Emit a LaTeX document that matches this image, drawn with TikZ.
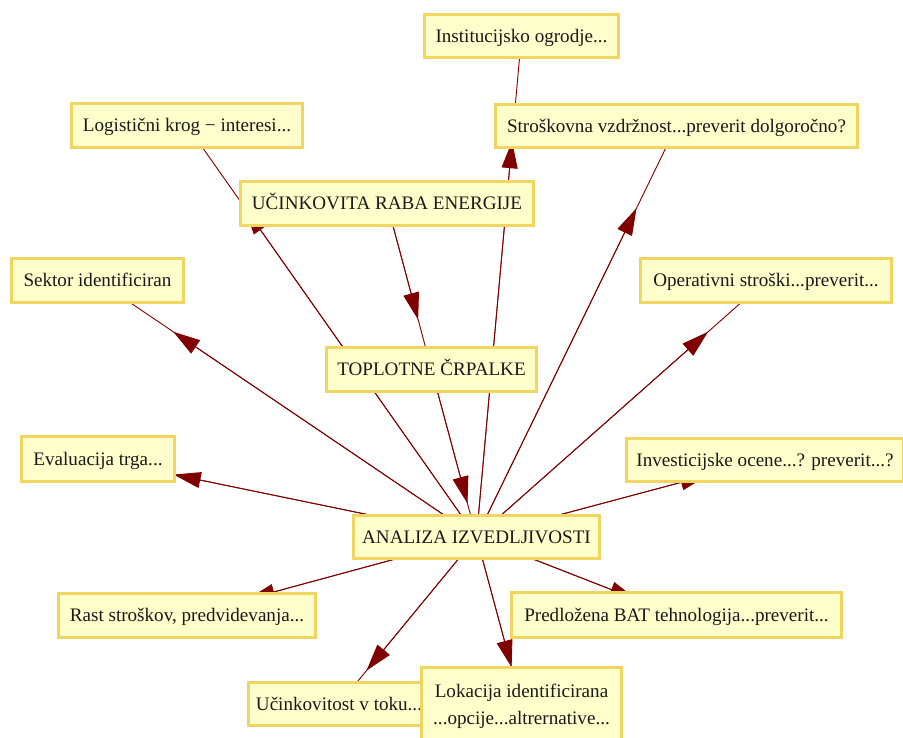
\documentclass[tikz,border=0pt]{standalone}
\usepackage{fontspec}
\setmainfont{Liberation Serif}
\usetikzlibrary{arrows.meta,calc}
\pgfdeclarelayer{edges}
\pgfsetlayers{edges,main}
\definecolor{boxfill}{RGB}{255,255,204}
\definecolor{boxline}{RGB}{240,214,96}
\definecolor{edgecol}{RGB}{128,0,0}
\tikzset{
  box/.style={draw=boxline, fill=boxfill, line width=3pt, inner sep=0pt,
    text=black!90, font=\fontsize{19.1}{22.9}\selectfont,
    text height=15.5pt, text depth=3pt},
  link/.style={draw=edgecol, line width=0.9pt},
  tipped/.style={link, -{Triangle[length=27pt,width=16pt]}}
}
\begin{document}
\begin{tikzpicture}[x=1pt,y=-1pt]
\useasboundingbox (0,0) rectangle (903,738);

% topic boxes
\node[box, minimum width=194pt, minimum height=43pt] (ins) at (521.5,36) {Institucijsko ogrodje...};
\node[box, minimum width=362pt, minimum height=43pt] (str) at (676.5,126) {Stroškovna vzdržnost...preverit dolgoročno?};
\node[box, minimum width=231pt, minimum height=44pt] (log) at (187,125.5) {Logistični krog − interesi...};
\node[box, minimum width=293pt, minimum height=44pt] (uc) at (387,203.5) {UČINKOVITA RABA ENERGIJE};
\node[box, minimum width=172pt, minimum height=44pt] (sek) at (97.5,280.5) {Sektor identificiran};
\node[box, minimum width=251pt, minimum height=44pt] (ope) at (766,280.5) {Operativni stroški...preverit...};
\node[box, minimum width=210pt, minimum height=44pt] (top) at (431.5,369.5) {TOPLOTNE ČRPALKE};
\node[box, minimum width=153pt, minimum height=45pt] (eva) at (98,459) {Evaluacija trga...};
\node[box, minimum width=277pt, minimum height=43pt] (inv) at (765,460) {Investicijske ocene...? preverit...?};
\node[box, minimum width=246pt, minimum height=43pt] (an) at (476.5,537) {ANALIZA IZVEDLJIVOSTI};
\node[box, minimum width=257pt, minimum height=44pt] (rast) at (187,615.5) {Rast stroškov, predvidevanja...};
\node[box, minimum width=330pt, minimum height=45pt] (pred) at (676.5,615) {Predložena BAT tehnologija...preverit...};
\node[box, minimum width=181pt, minimum height=43pt] (ucin) at (339,704) {Učinkovitost v toku...};
\node[box, minimum width=200pt, minimum height=73pt, text height=, text depth=, align=center,
      font=\fontsize{19.1}{27}\selectfont] (lok) at (521.5,704)
      {\rule{0pt}{18pt}Lokacija identificirana\\...opcije...altrernative...};

% connectors, drawn beneath the boxes
\begin{pgfonlayer}{edges}
  \foreach \target/\t in {sek/0.8, eva/0.8, rast/0.79, ope/0.8, inv/0.8, pred/0.8,
                          str/0.8, ins/0.79, log/0.8, ucin/0.8, lok/0.78} {
    \draw[link] (an.center) -- (\target.center);
    \draw[tipped] (an.center) -- ($(an.center)!\t!(\target.center)$);
  }
  \draw[link] (uc.center) -- (top.center);
  \draw[tipped] (uc.center) -- ($(uc.center)!0.7!(top.center)$);
  \draw[link] (top.center) -- (an.center);
  \draw[tipped] (top.center) -- ($(top.center)!0.8!(an.center)$);
\end{pgfonlayer}
\end{tikzpicture}
\end{document}
